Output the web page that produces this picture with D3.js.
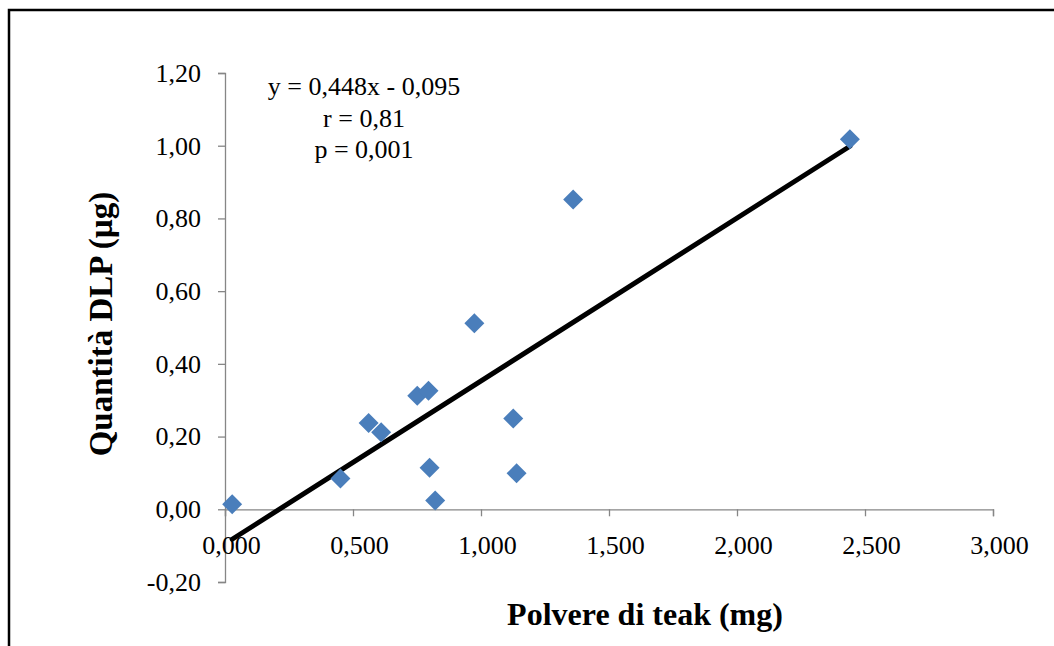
<!DOCTYPE html>
<html>
<head>
<meta charset="utf-8">
<script src="https://cdn.jsdelivr.net/npm/d3@7"></script>
<style>
  body { margin: 0; background: #fff; }
  svg { display: block; font-family: "Liberation Serif", "Times New Roman", serif; }
</style>
</head>
<body>
<svg id="chart" width="1054" height="646"></svg>
<script>
// dati
var polvere = [0.028, 0.451, 0.561, 0.610, 0.751, 0.795, 0.799, 0.821, 0.974, 1.126, 1.139, 1.360, 2.441];
var dlp     = [0.014, 0.085, 0.237, 0.212, 0.312, 0.326, 0.114, 0.024, 0.512, 0.250, 0.099, 0.852, 1.018];
var xTicks = [0, 0.5, 1, 1.5, 2, 2.5, 3];
var yTicks = [-0.2, 0, 0.2, 0.4, 0.6, 0.8, 1.0, 1.2];
var slope = 0.448, intercept = -0.095;
var annot = ["y = 0,448x - 0,095", "r = 0,81", "p = 0,001"];

var svg = d3.select("#chart");

// cornice
svg.append("rect")
  .attr("x", 9).attr("y", 10)
  .attr("width", 1100).attr("height", 700)
  .attr("fill", "none").attr("stroke", "#000").attr("stroke-width", 2.5);

var x = d3.scaleLinear().domain([0, 3]).range([225, 993]);
var y = d3.scaleLinear().domain([-0.2, 1.2]).range([582, 73]);

var fmt = function(n, d){ return d3.format("." + d + "f")(n).replace(".", ",").replace("−", "-"); };

// asse y
var yAxis = svg.append("g")
  .attr("transform", "translate(" + x(0) + ",0)")
  .call(d3.axisLeft(y).tickValues(yTicks).tickSize(7).tickPadding(17)
    .tickFormat(function(d){ return fmt(d, 2); }));
yAxis.select(".domain").attr("stroke", "#868686").attr("stroke-width", 1.3);
yAxis.selectAll(".tick line").attr("stroke", "#868686").attr("stroke-width", 1.3);
yAxis.selectAll("text").attr("font-size", 26).attr("fill", "#000")
  .attr("font-family", "Liberation Serif");

// asse x
var xAxis = svg.append("g")
  .attr("transform", "translate(0," + y(0) + ")")
  .call(d3.axisBottom(x).tickValues(xTicks).tickSize(7).tickPadding(19)
    .tickFormat(function(d){ return fmt(d, 3); }));
xAxis.select(".domain").attr("stroke", "#868686").attr("stroke-width", 1.3);
xAxis.selectAll(".tick line").attr("stroke", "#868686").attr("stroke-width", 1.3);
xAxis.selectAll("text").attr("font-size", 26).attr("fill", "#000")
  .attr("font-family", "Liberation Serif").attr("dx", 6);

// retta di regressione
var x0 = d3.min(polvere), x1 = d3.max(polvere);
svg.append("line")
  .attr("x1", x(x0)).attr("y1", y(slope * x0 + intercept))
  .attr("x2", x(x1)).attr("y2", y(slope * x1 + intercept))
  .attr("stroke", "#000").attr("stroke-width", 5).attr("stroke-linecap", "round");

// punti
var pts = d3.range(polvere.length);
svg.selectAll("path.pt").data(pts).enter()
  .append("path")
  .attr("class", "pt")
  .attr("d", d3.symbol().type(d3.symbolSquare).size(200))
  .attr("transform", function(i){ return "translate(" + x(polvere[i]) + "," + y(dlp[i]) + ") rotate(45)"; })
  .attr("fill", "#4a7ebb");

// annotazione
svg.selectAll("text.annot").data(annot).enter()
  .append("text")
  .attr("class", "annot")
  .attr("x", 364)
  .attr("y", function(d, i){ return 95 + i * 31.5; })
  .attr("text-anchor", "middle")
  .attr("font-size", 26)
  .text(function(d){ return d; });

// titoli assi
svg.append("text")
  .attr("x", 645).attr("y", 625)
  .attr("text-anchor", "middle")
  .attr("font-size", 32).attr("font-weight", "bold")
  .text("Polvere di teak (mg)");

svg.append("text")
  .attr("transform", "translate(112,324) rotate(-90)")
  .attr("text-anchor", "middle")
  .attr("font-size", 33).attr("font-weight", "bold")
  .text("Quantità DLP (µg)");
</script>
</body>
</html>
